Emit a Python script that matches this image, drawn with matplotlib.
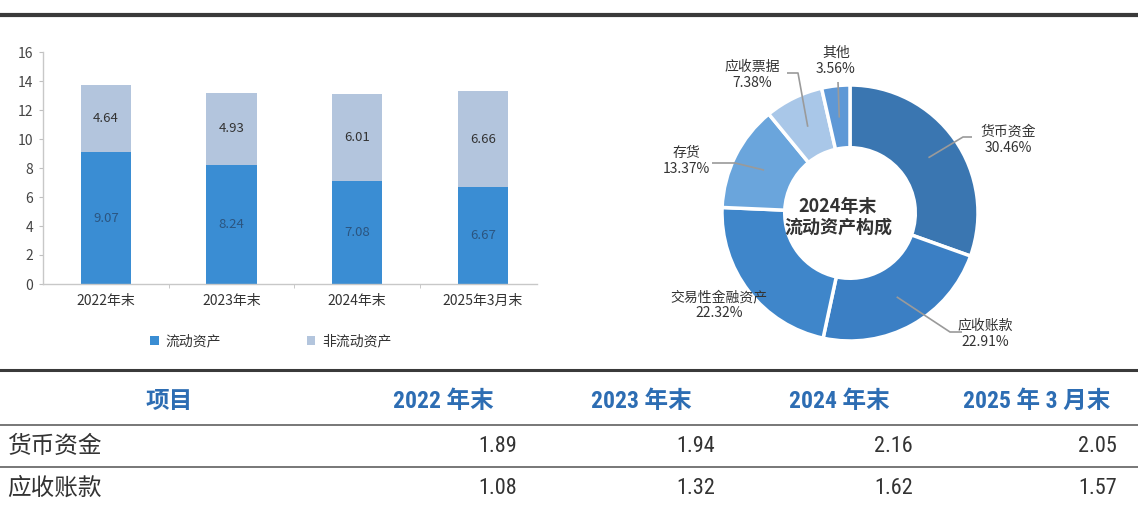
import matplotlib
matplotlib.use('Agg')
import matplotlib.pyplot as plt
from matplotlib import font_manager as fm
from matplotlib.lines import Line2D
import numpy as np

W, H = 1138, 505

# ---------------- data ----------------
bar_categories = ['2022年末', '2023年末', '2024年末', '2025年3月末']
current_assets = [9.07, 8.24, 7.08, 6.67]
noncurrent_assets = [4.64, 4.93, 6.01, 6.66]
bar_series_names = ['流动资产', '非流动资产']
y_ticks = [0, 2, 4, 6, 8, 10, 12, 14, 16]

donut_labels = ['货币资金', '应收账款', '交易性金融资产', '存货', '应收票据', '其他']
donut_pcts = [30.46, 22.91, 22.32, 13.37, 7.38, 3.56]
donut_title = ['2024年末', '流动资产构成']

table_header = ['项目', '2022 年末', '2023 年末', '2024 年末', '2025 年 3 月末']
table_rows = ['货币资金', '应收账款']
table_values = [[1.89, 1.94, 2.16, 2.05],
                [1.08, 1.32, 1.62, 1.57]]

# ---------------- fonts ----------------
avail = {f.name for f in fm.fontManager.ttflist}
CJK = 'Noto Sans CJK SC'
narrow = next((f for f in ['Liberation Sans Narrow', 'Roboto Condensed', 'Open Sans Condensed']
               if f in avail), 'Liberation Sans')
plt.rcParams['font.family'] = [CJK, 'DejaVu Sans']


def fx(x):
    return x / W


def fy(y):
    return 1 - y / H


fig = plt.figure(figsize=(W / 100, H / 100), dpi=100)
fig.patch.set_facecolor('white')

# top rule
fig.add_artist(Line2D([0, 1], [fy(15), fy(15)], transform=fig.transFigure, lw=3, color='#3a3a3a'))

# ---------------- stacked bars ----------------
ax = fig.add_axes([fx(43), fy(284), (537 - 43) / W, (284 - 52) / H])
x = np.arange(len(bar_categories))
c_cur = '#3a8dd3'
c_non = '#b3c5dd'
b1 = ax.bar(x, current_assets, width=0.4, color=c_cur)
b2 = ax.bar(x, noncurrent_assets, bottom=current_assets, width=0.4, color=c_non)
ax.set_xlim(-0.5, 3.43)
ax.set_ylim(0, 16)
ax.set_yticks(y_ticks)
ax.set_xticks(x)
ax.set_xticklabels(bar_categories)
ax.set_xticks([0.5, 1.5, 2.5], minor=True)
ax.tick_params(axis='x', which='major', length=0, pad=7, labelsize=10, labelcolor='#333')
ax.tick_params(axis='x', which='minor', length=3, color='#c0c0c0')
ax.tick_params(axis='y', length=3, color='#c0c0c0', labelsize=10, labelcolor='#444', pad=4)
for s in ['top', 'right']:
    ax.spines[s].set_visible(False)
for s in ['left', 'bottom']:
    ax.spines[s].set_color('#c8c8c8')
    ax.spines[s].set_linewidth(1)
for i in range(len(x)):
    ax.text(x[i], current_assets[i] / 2, f'{current_assets[i]:.2f}', ha='center', va='center',
            fontsize=9.5, color='#2b5580')
    ax.text(x[i], current_assets[i] + noncurrent_assets[i] / 2, f'{noncurrent_assets[i]:.2f}',
            ha='center', va='center', fontsize=9.5, color='#333')

leg = ax.legend([b1, b2], bar_series_names, loc='center', bbox_to_anchor=(fx(271), fy(341)),
                bbox_transform=fig.transFigure, ncol=2, frameon=False, handlelength=0.6,
                handleheight=0.6, handletextpad=0.5, columnspacing=6.2, fontsize=10)
for t in leg.get_texts():
    t.set_color('#333')

# ---------------- donut ----------------
cx, cy, R = 850, 213, 128
left, right, top, bottom = 640, 1060, 30, 365
dax = fig.add_axes([fx(left), fy(bottom), (right - left) / W, (bottom - top) / H])
donut_colors = ['#3a76b1', '#3b7fc4', '#3f86ca', '#6aa5dc', '#a9c7e8', '#5e98d6']
wedges, _ = dax.pie(donut_pcts, colors=donut_colors, startangle=90, counterclock=False, radius=1,
                    wedgeprops=dict(width=0.49, edgecolor='white', linewidth=2.5))
dax.set_aspect('auto')
dax.set_xlim((left - cx) / R, (right - cx) / R)
dax.set_ylim((cy - bottom) / R, (cy - top) / R)
dax.axis('off')


def d(px, py):
    return ((px - cx) / R, (cy - py) / R)


label_pos = {'货币资金': (1008, 140), '应收账款': (985, 334), '交易性金融资产': (719, 305),
             '存货': (686, 161), '应收票据': (752, 75), '其他': (836, 61)}
elbows = {'货币资金': [(963, 137), (972, 137)], '应收账款': [(950, 332), (962, 332)],
          '存货': [(735, 163), (712, 163)], '应收票据': [(798, 73), (787, 73)],
          '其他': [(838, 82)]}

cum = np.cumsum([0] + donut_pcts)
for i, name in enumerate(donut_labels):
    mid = (cum[i] + cum[i + 1]) / 2
    ang = np.deg2rad(90 - mid / 100 * 360)
    if name in elbows:
        pts = [(0.75 * np.cos(ang), 0.75 * np.sin(ang))] + [d(*p) for p in elbows[name]]
        xs, ys = zip(*pts)
        dax.plot(xs, ys, color='#9a9a9a', lw=1.2, solid_capstyle='butt')
    lx, ly = d(*label_pos[name])
    dax.text(lx, ly, f'{name}\n{donut_pcts[i]:.2f}%', ha='center', va='center', fontsize=10,
             color='#333', linespacing=1.15)

tx, ty = d(838, 206)
dax.text(tx, ty, donut_title[0], ha='center', va='center', fontsize=13, fontweight='semibold', color='#333')
tx, ty = d(838, 227)
dax.text(tx, ty, donut_title[1], ha='center', va='center', fontsize=13, fontweight='semibold', color='#333')

# ---------------- table ----------------
for yy, lw, c in [(370, 2.2, '#3a3a3a'), (425, 1.4, '#777'), (467, 1.4, '#777')]:
    fig.add_artist(Line2D([0, 1], [fy(yy), fy(yy)], transform=fig.transFigure, lw=lw, color=c))

header_x = [169, 443, 641, 839, 1037]
head_color = '#2d6db3'
for hx, txt in zip(header_x, table_header):
    fig.text(fx(hx), fy(401), txt, ha='center', va='center', fontsize=17, color=head_color,
             family=[narrow, CJK], fontweight='semibold')

row_y = [446, 488]
val_x = [517, 715, 913, 1117]
for ry, rname, vals in zip(row_y, table_rows, table_values):
    fig.text(fx(7), fy(ry), rname, ha='left', va='center', fontsize=17, color='#333',
             family=[CJK], fontweight='light')
    for vx, v in zip(val_x, vals):
        fig.text(fx(vx), fy(ry), f'{v:.2f}', ha='right', va='center', fontsize=16, color='#333',
                 family=[narrow, CJK])

fig.savefig('out.png', dpi=100, facecolor='white')
